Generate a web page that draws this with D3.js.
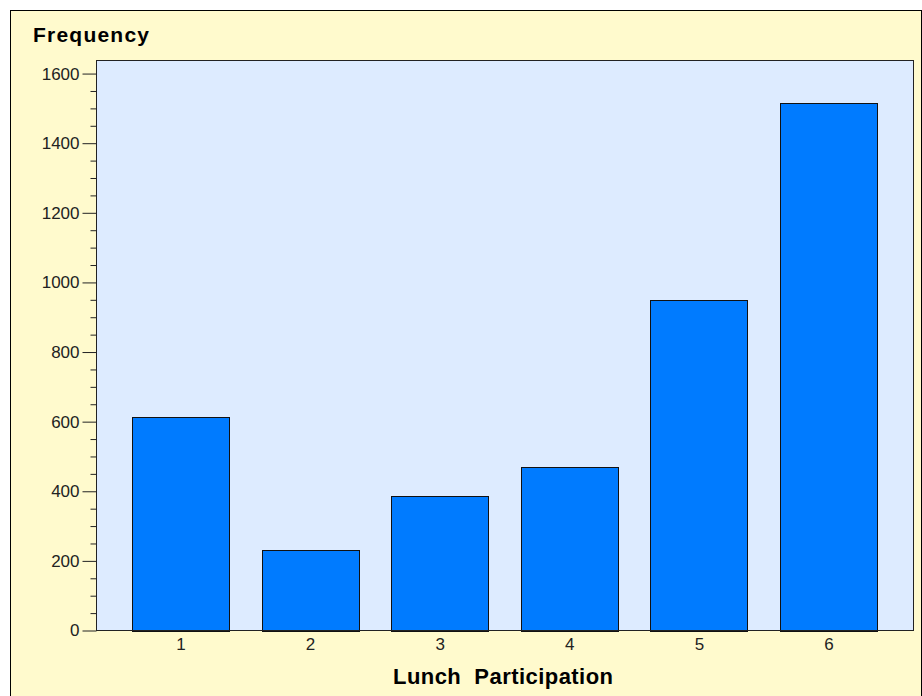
<!DOCTYPE html>
<html>
<head>
<meta charset="utf-8">
<script src="https://cdn.jsdelivr.net/npm/d3@7"></script>
<style>
  html, body { margin: 0; padding: 0; background: #ffffff; }
  svg { display: block; }
</style>
</head>
<body>
<svg id="chart" width="922" height="696"></svg>
<script>
const categories = ["1", "2", "3", "4", "5", "6"];
const frequencies = [612, 231, 386, 469, 949, 1516];
const yMajorTicks = [0, 200, 400, 600, 800, 1000, 1200, 1400, 1600];
const yMinorTicks = d3.range(0, 1650, 50).filter(v => v % 200 !== 0);
const yTitle = "Frequency";
const xTitle = "Lunch  Participation";

const svg = d3.select("#chart");
const plot = { left: 96, top: 60, right: 914, bottom: 630.5 };

// outer frame
svg.append("rect")
  .attr("x", 10.5).attr("y", 10.5)
  .attr("width", 911).attr("height", 700)
  .attr("fill", "#FFFACD").attr("stroke", "#000").attr("stroke-width", 1);

const x = d3.scaleBand()
  .domain(categories)
  .range([plot.left, plot.right])
  .paddingInner(0.2515)
  .paddingOuter(0.281);

const y = d3.scaleLinear()
  .domain([0, 1639])
  .range([plot.bottom, plot.top]);

// plot background
svg.append("rect")
  .attr("x", plot.left).attr("y", plot.top)
  .attr("width", plot.right - plot.left).attr("height", plot.bottom - plot.top)
  .attr("fill", "#DDEBFF");

// bars
svg.append("g").selectAll("rect")
  .data(frequencies)
  .join("rect")
  .attr("x", (d, i) => Math.floor(x(categories[i])) + 0.5)
  .attr("y", d => Math.round(y(d)) + 0.5)
  .attr("width", Math.round(x.bandwidth()))
  .attr("height", d => Math.round(y(0)) - Math.round(y(d)))
  .attr("fill", "#007BFF")
  .attr("stroke", "#111")
  .attr("stroke-width", 1);

// plot border
svg.append("rect")
  .attr("x", plot.left + 0.5).attr("y", plot.top + 0.5)
  .attr("width", plot.right - plot.left - 1).attr("height", plot.bottom - plot.top - 0.5)
  .attr("fill", "none")
  .attr("stroke", "#222").attr("stroke-width", 1);

// y axis with major ticks
const yAxis = svg.append("g")
  .attr("transform", `translate(${plot.left + 0.5},0)`)
  .call(d3.axisLeft(y).tickValues(yMajorTicks).tickSize(14).tickPadding(3).tickFormat(d3.format("d")));
yAxis.select(".domain").remove();
yAxis.selectAll(".tick line").attr("stroke", "#222");
yAxis.selectAll(".tick text")
  .attr("font-family", "Liberation Sans, Arial, sans-serif")
  .attr("font-size", 17)
  .attr("fill", "#222");

// minor ticks
const yMinor = svg.append("g")
  .attr("transform", `translate(${plot.left + 0.5},0)`)
  .call(d3.axisLeft(y).tickValues(yMinorTicks).tickSize(6).tickFormat(""));
yMinor.select(".domain").remove();
yMinor.selectAll(".tick line").attr("stroke", "#222");

// x axis labels (no tick marks)
const xAxis = svg.append("g")
  .attr("transform", `translate(0,${plot.bottom})`)
  .call(d3.axisBottom(x).tickSize(0).tickPadding(7));
xAxis.select(".domain").remove();
xAxis.selectAll(".tick text")
  .attr("font-family", "Liberation Sans, Arial, sans-serif")
  .attr("font-size", 17)
  .attr("fill", "#222");

// titles
svg.append("text")
  .attr("x", 33).attr("y", 42)
  .attr("font-family", "Liberation Sans, Arial, sans-serif")
  .attr("font-weight", "bold")
  .attr("font-size", 21)
  .attr("textLength", 116)
  .attr("lengthAdjust", "spacing")
  .attr("fill", "#000")
  .text(yTitle);

svg.append("text")
  .attr("x", 503).attr("y", 684)
  .attr("text-anchor", "middle")
  .attr("font-family", "Liberation Sans, Arial, sans-serif")
  .attr("font-weight", "bold")
  .attr("font-size", 22)
  .attr("textLength", 220)
  .attr("lengthAdjust", "spacing")
  .attr("fill", "#000")
  .style("white-space", "pre")
  .text(xTitle);
</script>
</body>
</html>
